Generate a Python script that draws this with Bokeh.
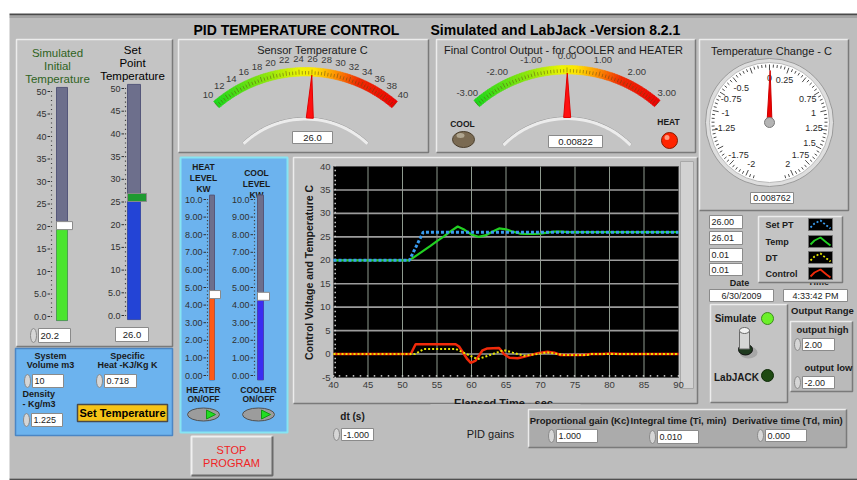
import numpy as np
from bokeh.plotting import figure
from bokeh.models import Range1d
from bokeh.core.properties import value
from bokeh.embed import file_html
from bokeh.resources import INLINE

# ---------------- data ----------------
# main chart
time_setpt = [40, 51.0, 53.0, 90]
set_pt = [20, 20, 26, 26]
time_temp = [40, 51, 52, 53, 54, 55, 56, 57, 58, 59, 60, 61, 62, 63, 64, 65, 66, 67,
             68, 69, 70, 71, 72, 73, 74, 75, 80, 85, 90]
temp = [20, 20, 21.0, 22.0, 23.0, 24.1, 25.1, 26.2, 27.2, 26.5, 25.5, 25.0, 25.3, 26.1,
        26.8, 26.6, 26.1, 25.7, 25.6, 25.6, 25.7, 25.9, 26.1, 26.1, 26.0, 26.0, 26.0, 26.0, 26.0]
time_dt = [40, 51.8, 53.1, 57.7, 59.0, 60.9, 62.5, 64.7, 66.0, 67.6, 69.5, 71.0, 73.4,
           76.8, 77.3, 90]
dt_vals = [0, 0, 1.1, 1.1, 0.2, -1.1, -0.3, 0.85, 0.3, -0.35, 0.0, 0.35, -0.2, -0.2, 0.0, 0.0]
time_ctrl = [40, 51.2, 51.9, 57.7, 58.2, 59.4, 59.9, 60.6, 61.6, 62.3, 64.0, 64.7, 65.5,
             66.7, 67.6, 69.6, 71.0, 72.0, 72.9, 76.3, 77.3, 79.0, 80.2, 81.5, 90]
control = [0, 0, 2.1, 2.1, 1.6, -1.1, -1.9, -1.4, 0.8, 1.2, 1.3, 0.0, -0.8, -0.9, -0.6,
           0.2, 0.5, 0.3, -0.2, -0.2, 0.0, 0.0, 0.1, 0.0, 0.0]
x_ticks = [40, 45, 50, 55, 60, 65, 70, 75, 80, 85, 90]
y_ticks = [-5, 0, 5, 10, 15, 20, 25, 30, 35, 40]

# gauges
sensor_temperature = 26.0
sensor_ticks = [10, 12, 14, 16, 18, 20, 22, 24, 26, 28, 30, 32, 34, 36, 38, 40]
control_output = 0.00822
control_ticks = [-3, -2, -1, 0, 1, 2, 3]
control_tick_labels = ["-3.00", "-2.00", "-1.00", "0.00", "1.00", "2.00", "3.00"]
temp_change = 0.008762
dial_ticks = [0, 0.25, 0.75, 1, 1.25, 1.5, 1.75, 2, -0.5, -0.75, -1, -1.25, -1.75, -2]
dial_labels = ["0", "0.25", "0.75", "1", "1.25", "1.5", "1.75", "2",
               "-0.5", "-0.75", "-1", "-1.25", "-1.75", "-2"]

# sliders
sim_initial_temp = 20.2
set_point_temp = 26.0
temp_slider_ticks = [0, 5, 10, 15, 20, 25, 30, 35, 40, 45, 50]
temp_slider_labels = ["0.0", "5.0", "10", "15", "20", "25", "30", "35", "40", "45", "50"]
heat_level = 4.6
cool_level = 4.5
level_ticks = [0, 1, 2, 3, 4, 5, 6, 7, 8, 9, 10]
level_labels = ["0.00", "1.00", "2.00", "3.00", "4.00", "5.00", "6.00", "7.00", "8.00", "9.00", "10.0"]

# controls / readouts
system_volume = "10"
specific_heat = "0.718"
density = "1.225"
readouts = ["26.00", "26.01", "0.01", "0.01"]
legend_names = ["Set PT", "Temp", "DT", "Control"]
date_text = "6/30/2009"
time_text = "4:33:42 PM"
output_high = "2.00"
output_low = "-2.00"
dt_s = "-1.000"
kc = "1.000"
ti = "0.010"
td = "0.000"

# ---------------- styles ----------------
FONT = "Liberation Sans"
BG = "#bdbdbd"
PANEL = "#c4c4c4"
BLUE_PANEL = "#6cb3ee"
TRACK = "#6d6f8c"
C_SET = "#3a9cf0"
C_TEMP = "#22d022"
C_DT = "#e6e600"
C_CTRL = "#f02a0a"

p = figure(width=857, height=480, x_range=Range1d(0, 857), y_range=Range1d(480, 0),
           output_backend="svg", toolbar_location=None, min_border=0,
           x_axis_location=None, y_axis_location=None)
p.grid.visible = False
p.outline_line_color = None
p.background_fill_color = "white"
p.border_fill_color = "white"


def txt(x, y, s, size=9, color="#1a1a1a", align="center", bold=False,
        baseline="middle", angle=0.0):
    p.text(x=[x], y=[y], text=[s], text_font=value(FONT), text_font_size=f"{size}px",
           text_color=color, text_align=align, text_baseline=baseline,
           text_font_style="bold" if bold else "normal", angle=angle)


def panel(l, t, r, b, fill=PANEL, light="#ececec", dark="#7a7a7a", lw=1.5):
    p.quad(left=[l], right=[r], top=[t], bottom=[b], fill_color=fill, line_color=None)
    p.multi_line(xs=[[l, l, r], [l, r, r]], ys=[[b, t, t], [b, b, t]],
                 line_color=[light, dark], line_width=lw)


def numbox(l, t, r, b, s, spinner=False, size=9, align="left"):
    p.quad(left=[l], right=[r], top=[t], bottom=[b], fill_color="white", line_color="#8a8a8a")
    if align == "left":
        txt(l + 2, (t + b) / 2, s, size=size, color="#222222", align="left")
    else:
        txt((l + r) / 2, (t + b) / 2, s, size=size, color="#222222")
    if spinner:
        p.ellipse(x=[l - 5], y=[(t + b) / 2], width=6, height=b - t, fill_color="#d6d6d6",
                  line_color="#8a8a8a")


def lerp_color(f, stops):
    for (f0, c0), (f1, c1) in zip(stops[:-1], stops[1:]):
        if f0 <= f <= f1:
            u = (f - f0) / (f1 - f0) if f1 > f0 else 0
            c = [int(round(a + (b - a) * u)) for a, b in zip(c0, c1)]
            return "#%02x%02x%02x" % tuple(c)
    return "#%02x%02x%02x" % stops[-1][1]


GAUGE_STOPS = [(0.0, (25, 215, 25)), (0.3, (140, 230, 10)), (0.47, (235, 245, 0)),
               (0.55, (255, 228, 0)), (0.65, (255, 150, 0)), (0.78, (238, 40, 0)),
               (1.0, (235, 0, 0))]


def arc_gauge(cx, cy, r_out, r_in, half, vmin, vmax, val, ticks, labels, r_lab,
              minor_step, hub_r, hub_half):
    def ang(v):
        return np.radians(90 + half - (v - vmin) / (vmax - vmin) * 2 * half)

    n = 80
    edges = np.linspace(vmin, vmax, n + 1)
    xs, ys, cols = [], [], []
    for i in range(n):
        a = np.linspace(ang(edges[i]), ang(edges[i + 1]), 4)
        px = list(cx + r_out * np.cos(a)) + list(cx + r_in * np.cos(a[::-1]))
        py = list(cy - r_out * np.sin(a)) + list(cy - r_in * np.sin(a[::-1]))
        xs.append(px)
        ys.append(py)
        cols.append(lerp_color((i + 0.5) / n, GAUGE_STOPS))
    p.patches(xs=xs, ys=ys, fill_color=cols, line_color=cols, line_width=0.6)
    # ticks inside the band
    mv = np.arange(vmin, vmax + minor_step / 2, minor_step)
    tx, ty = [], []
    for v in mv:
        a = ang(v)
        major = any(abs(v - t) < 1e-6 for t in ticks)
        r1 = r_out - 2 if major else r_in + 5
        tx.append([cx + (r_in + 1.5) * np.cos(a), cx + r1 * np.cos(a)])
        ty.append([cy - (r_in + 1.5) * np.sin(a), cy - r1 * np.sin(a)])
    p.multi_line(xs=tx, ys=ty, line_color="#5a4a10", line_alpha=0.55, line_width=0.9)
    # labels
    la = [ang(v) for v in ticks]
    p.text(x=[cx + r_lab * np.cos(a) for a in la], y=[cy - r_lab * np.sin(a) for a in la],
           text=labels, text_font=value(FONT), text_font_size="9.5px", text_color="#3a3a3a",
           text_align="center", text_baseline="middle")
    # hub arc
    ha = np.radians(np.linspace(90 + hub_half, 90 - hub_half, 40))
    p.line(x=cx + (hub_r + 1.5) * np.cos(ha), y=cy - (hub_r + 1.5) * np.sin(ha),
           line_color="#9a9a9a", line_width=1)
    p.line(x=cx + hub_r * np.cos(ha), y=cy - hub_r * np.sin(ha),
           line_color="#ececec", line_width=3)
    # needle
    a = ang(val)
    pa = a + np.pi / 2
    r0, r1 = hub_r + 1, r_in + 1
    nx = [cx + r1 * np.cos(a), cx + r0 * np.cos(a) + 3.5 * np.cos(pa), cx + r0 * np.cos(a) - 3.5 * np.cos(pa)]
    ny = [cy - r1 * np.sin(a), cy - r0 * np.sin(a) - 3.5 * np.sin(pa), cy - r0 * np.sin(a) + 3.5 * np.sin(pa)]
    p.patch(x=nx, y=ny, fill_color="#ff1010", line_color="#e00000", line_width=1)


def vslider(x0, x1, y_zero, y_max, vmax, val, fill, thumb_col, thumb_w, ticks, labels,
            label_right, ext, size=9):
    s = p.subplot(x_source=Range1d(0, 900), x_target=Range1d(0, 900),
                  y_source=Range1d(0, vmax), y_target=Range1d(y_zero, y_max))
    s.quad(left=[x0], right=[x1], bottom=[-ext], top=[vmax + ext], fill_color=TRACK,
           line_color="#55577a")
    s.quad(left=[x0], right=[x1], bottom=[-ext], top=[val], fill_color=fill, line_color=None)
    s.text(x=[label_right] * len(ticks), y=ticks, text=labels, text_font=value(FONT),
           text_font_size=f"{size}px", text_color="#303030", text_align="right",
           text_baseline="middle")
    s.segment(x0=[label_right + 1] * len(ticks), x1=[label_right + 3.5] * len(ticks),
              y0=ticks, y1=ticks, line_color="#303030", line_width=1)
    minor = np.linspace(0, vmax, 51)
    s.scatter(x=[label_right + 5] * len(minor), y=minor, marker="square", size=1.2,
              fill_color="#404040", line_color=None)
    s.rect(x=[x0 + thumb_w / 2], y=[val], width=thumb_w, height=8, height_units="screen",
           fill_color=thumb_col, line_color="#8a8a8a")


# ---------------- background ----------------
p.quad(left=[9], right=[857], top=[15], bottom=[478], fill_color=BG, line_color=None)
p.line(x=[9, 857], y=[14, 14], line_color="#4a4a4a", line_width=2)
p.line(x=[9, 857], y=[16.5, 16.5], line_color="#8a8a8a", line_width=1)
p.line(x=[9, 857], y=[479, 479], line_color="#505050", line_width=2)

txt(193, 29, "PID TEMPERATURE CONTROL", size=14, bold=True, color="black", align="left")
txt(430, 29, "Simulated and LabJack  -Version 8.2.1", size=14, bold=True, color="black", align="left")

# ---------------- left temperature sliders ----------------
panel(16, 39, 172, 346)
for i, w in enumerate(["Simulated", "Initial", "Temperature"]):
    txt(57, 52 + 13 * i, w, size=11.5, color="#2f6322")
for i, w in enumerate(["Set", "Point", "Temperature"]):
    txt(132, 49 + 13 * i, w, size=11.5, color="black")
vslider(56, 67, 316, 91, 50, sim_initial_temp, "#4ae52e", "#ffffff", 16,
        temp_slider_ticks, temp_slider_labels, 46, 0.9)
vslider(127, 140, 315, 88, 50, set_point_temp, "#2344d6", "#1e9a30", 19,
        temp_slider_ticks, temp_slider_labels, 120, 0.9)
numbox(38, 328, 70, 342, f"{sim_initial_temp:.1f}", spinner=True, size=9.5)
numbox(115, 327, 148, 341, f"{set_point_temp:.1f}", size=9.5, align="center")

# ---------------- settings (blue) ----------------
p.quad(left=[15], right=[172], top=[348], bottom=[435], fill_color=BLUE_PANEL,
       line_color="#4b86c4", line_width=1.5)
txt(50, 355, "System", bold=True)
txt(50, 364.5, "Volume m3", bold=True)
txt(127, 355, "Specific", bold=True)
txt(127, 364.5, "Heat -KJ/Kg K", bold=True)
txt(22, 393, "Density", bold=True, align="left")
txt(22, 403, "- Kg/m3", bold=True, align="left")
numbox(32, 374, 63, 387, system_volume, spinner=True)
numbox(104, 374, 136, 387, specific_heat, spinner=True)
numbox(31, 413, 62, 426, density, spinner=True)
p.quad(left=[77], right=[167], top=[404], bottom=[421], fill_color="#f6c417",
       line_color="#4a4a4a", line_width=1.5)
txt(122, 412.5, "Set Temperature", size=11, bold=True, color="black")

# ---------------- sensor temperature gauge ----------------
panel(178, 39, 428, 152)
txt(312, 49, "Sensor Temperature C", size=11, color="#1a1a1a")
arc_gauge(305, 208.5, 141.5, 133, 40.5, 10, 40, sensor_temperature, sensor_ticks,
          [str(t) for t in sensor_ticks], 150, 0.5, 90, 43.5)
numbox(292, 131, 332, 143, f"{sensor_temperature:.1f}", size=9.5, align="center")

# ---------------- final control output gauge ----------------
panel(436, 39, 695, 152)
txt(563, 49, "Final Control Output - for COOLER and HEATER", size=11, color="#1a1a1a")
arc_gauge(566.5, 207, 142, 133.5, 41, -3, 3, control_output, control_ticks,
          control_tick_labels, 152, 0.1, 89, 45.5)
numbox(548, 135, 602, 147, f"{control_output:.5f}", size=9.5, align="center")
txt(462, 123, "COOL", size=8.5, bold=True)
p.ellipse(x=[463], y=[139], width=22, height=16, fill_color="#7a6a52", line_color="#4a3e2c")
p.ellipse(x=[460], y=[135], width=8, height=5, fill_color="#b0a690", line_color=None)
txt(668, 121, "HEAT", size=8.5, bold=True)
p.circle(x=[669], y=[140], radius=8, fill_color="#ff2400", line_color="#8a1a00")
p.circle(x=[666.5], y=[137], radius=2.5, fill_color="#ff9a80", line_color=None)

# ---------------- temperature change dial ----------------
panel(699, 39, 848, 210)
txt(771, 50, "Temperature Change - C", size=11, color="#1a1a1a")
dcx, dcy = 769, 122


def dial_xy(v, r):
    th = np.radians(np.asarray(v, dtype=float) * 78.0)
    return dcx + r * np.sin(th), dcy - r * np.cos(th)


p.circle(x=[dcx], y=[dcy], radius=64, fill_color="#dedede", line_color="#9a9a9a", line_width=1)
p.circle(x=[dcx], y=[dcy], radius=60, fill_color="white", line_color="#b8b8b8", line_width=1)
mt = np.round(np.arange(-2.1, 2.1001, 0.05), 3)
txs, tys = [], []
for v in mt:
    major = abs(v * 4 - round(v * 4)) < 1e-6
    ax, ay = dial_xy(v, 58)
    bx, by = dial_xy(v, 52 if major else 55)
    txs.append([float(ax), float(bx)])
    tys.append([float(ay), float(by)])
p.multi_line(xs=txs, ys=tys, line_color="#3a3a3a", line_width=0.9)
lx, ly = dial_xy(dial_ticks, 45)
p.text(x=list(lx), y=list(ly), text=dial_labels, text_font=value(FONT), text_font_size="9px",
       text_color="#2a2a2a", text_align="center", text_baseline="middle")
th = np.radians(temp_change * 78.0)
nx = [dcx + 52 * np.sin(th), dcx + 2.5 * np.cos(th), dcx - 2.5 * np.cos(th)]
ny = [dcy - 52 * np.cos(th), dcy + 2.5 * np.sin(th), dcy - 2.5 * np.sin(th)]
p.patch(x=nx, y=ny, fill_color="#ee0000", line_color="#cc0000")
p.circle(x=[dcx], y=[dcy], radius=5, fill_color="#b4b4b4", line_color="#7a7a7a")
numbox(750, 192, 793, 203, f"{temp_change:.6f}", size=9, align="center")

# ---------------- heat / cool levels (blue) ----------------
p.quad(left=[180], right=[287], top=[157], bottom=[432], fill_color=BLUE_PANEL,
       line_color="#86e4f2", line_width=2)
for i, w in enumerate(["HEAT", "LEVEL", "KW"]):
    txt(203, 166 + 11 * i, w, size=8.5, bold=True)
for i, w in enumerate(["COOL", "LEVEL", "KW"]):
    txt(256, 172 + 11 * i, w, size=8.5, bold=True)
vslider(209, 214, 375, 199, 10, heat_level, "#ff5a16", "#ffffff", 11,
        level_ticks, level_labels, 202, 0.25, size=9)
vslider(257, 263, 375, 199, 10, cool_level, "#3b2cf2", "#ffffff", 12,
        level_ticks, level_labels, 249, 0.25, size=9)
txt(203, 389, "HEATER", size=8.5, bold=True)
txt(203, 398, "ON/OFF", size=8.5, bold=True)
txt(258, 389, "COOLER", size=8.5, bold=True)
txt(258, 398, "ON/OFF", size=8.5, bold=True)
for cx_ in (203, 258):
    p.ellipse(x=[cx_], y=[414], width=32, height=13, fill_color="#9c9c9c", line_color="#505050")
    p.patch(x=[cx_ + 3, cx_ + 12, cx_ + 3], y=[409.5, 414, 418.5], fill_color="#22dd22",
            line_color="#119911")

# STOP PROGRAM button
panel(191, 436, 272, 475, fill="#c8c8c8", light="#f0f0f0", dark="#6a6a6a", lw=2)
txt(231, 449, "STOP", size=11, color="#f02424")
txt(231, 462, "PROGRAM", size=11, color="#f02424")

# ---------------- main chart ----------------
panel(293, 157, 697, 403, fill="#c2c2c2")
p.quad(left=[680], right=[693], top=[161], bottom=[388], fill_color="#d2d2d2", line_color="#a8a8a8")
c = p.subplot(x_source=Range1d(40, 90), y_source=Range1d(-5, 40),
              x_target=Range1d(333, 678), y_target=Range1d(377, 166))
c.quad(left=[x_ticks[0]], right=[x_ticks[-1]], bottom=[y_ticks[0]], top=[y_ticks[-1]],
       fill_color="black", line_color="#505050")
inner_x = x_ticks[1:-1]
inner_y = y_ticks[1:-1]
c.segment(x0=inner_x, x1=inner_x, y0=[y_ticks[0]] * len(inner_x), y1=[y_ticks[-1]] * len(inner_x),
          line_color="#8e9a8e", line_width=1)
c.segment(x0=[x_ticks[0]] * len(inner_y), x1=[x_ticks[-1]] * len(inner_y), y0=inner_y, y1=inner_y,
          line_color="#9c9c9c", line_width=1.6)
mx = np.arange(x_ticks[0], x_ticks[-1] + 1, 1)
my = np.arange(y_ticks[0], y_ticks[-1] + 1, 1)
c.scatter(x=mx, y=[y_ticks[0] + 0.35] * len(mx), marker="square", size=1.5, fill_color="#d0d0d0",
          line_color=None)
c.scatter(x=[x_ticks[0] + 0.25] * len(my), y=my, marker="square", size=1.5, fill_color="#d0d0d0",
          line_color=None)
c.text(x=x_ticks, y=[y_ticks[0]] * len(x_ticks), text=[str(t) for t in x_ticks],
       text_font=value(FONT), text_font_size="9.5px", text_color="#3a3a3a",
       text_align="center", text_baseline="top", y_offset=4)
c.text(x=[x_ticks[0]] * len(y_ticks), y=y_ticks, text=[str(t) for t in y_ticks],
       text_font=value(FONT), text_font_size="9.5px", text_color="#3a3a3a",
       text_align="right", text_baseline="middle", x_offset=-3)

c.line(x=time_ctrl, y=control, line_color=C_CTRL, line_width=2.5)
c.line(x=time_temp, y=temp, line_color=C_TEMP, line_width=2.2)
c.line(x=time_dt, y=dt_vals, line_color=C_DT, line_width=2, line_dash="2 2")
c.line(x=time_setpt, y=set_pt, line_color=C_SET, line_width=3, line_dash="3 2")

txt(308, 272, "Control Voltage and Temperature C", size=10.5, bold=True, color="#1a1a1a",
    angle=np.pi / 2)
txt(503, 396, "Elapsed Time - sec", size=11, bold=True, color="#1a1a1a", baseline="top")
p.quad(left=[430], right=[580], top=[403.5], bottom=[410], fill_color=BG, line_color=None)

# ---------------- right side indicators ----------------
for i, (s, (t, b)) in enumerate(zip(readouts, [(215, 228), (231, 244), (248, 261), (263, 275)])):
    numbox(709, t, 742, b, s, size=9)

txt(818, 281, "Time", size=9, bold=True)
panel(758, 216, 842, 282)
leg_cols = [C_SET, C_TEMP, C_DT, C_CTRL]
leg_dash = ["2 2", "solid", "2 2", "solid"]
for name, cy_, col, dsh in zip(legend_names, [224, 241, 257, 273], leg_cols, leg_dash):
    txt(765, cy_, name, size=9, bold=True, align="left")
    p.quad(left=[808], right=[832], top=[cy_ - 6], bottom=[cy_ + 6], fill_color="black",
           line_color="#707070")
    p.line(x=[810, 814, 820, 826, 830], y=[cy_ + 3, cy_ - 1, cy_ - 4, cy_ + 1, cy_ + 4],
           line_color=col, line_width=1.8, line_dash=dsh)

txt(739, 282, "Date", size=9, bold=True)
numbox(709, 289, 773, 301, date_text, size=9, align="center")
numbox(783, 289, 847, 301, time_text, size=9, align="center")

panel(710, 304, 787, 402)
txt(735, 318, "Simulate", size=10, bold=True)
p.circle(x=[767], y=[318], radius=6, fill_color="#6cf02a", line_color="#3a8a1a")
p.ellipse(x=[748], y=[352], width=18, height=12, fill_color="#8a8a8a", line_color=None, fill_alpha=0.5)
p.ellipse(x=[745], y=[349], width=14, height=11, fill_color="#1f3a1f", line_color="#101010")
p.rect(x=[744], y=[339], width=10, height=19, fill_color="#d6d6d6", line_color="#6a6a6a")
p.ellipse(x=[744], y=[330], width=10, height=6, fill_color="#f2f2f2", line_color="#6a6a6a")
txt(736, 377, "LabJACK", size=10, bold=True)
p.circle(x=[767], y=[375], radius=6, fill_color="#1e4a12", line_color="#0e2a08")

txt(822, 310, "Output Range", size=9.5, bold=True)
panel(790, 321, 852, 391, fill="#bababa")
txt(822, 329, "output high", size=9.5, bold=True)
numbox(802, 338, 834, 350, output_high, spinner=True, size=9)
txt(828, 367, "output low", size=9.5, bold=True)
numbox(802, 376, 834, 388, output_low, spinner=True, size=9)

# ---------------- bottom controls ----------------
txt(352, 416, "dt (s)", size=10, bold=True)
numbox(341, 428, 373, 440, dt_s, spinner=True, size=9)
txt(490, 433, "PID gains", size=11, color="#1a1a1a")
panel(528, 409, 846, 447, fill="#ababab")
txt(579, 419.5, "Proportional gain (Kc)", size=9.5, bold=True)
txt(678, 420, "Integral time (Ti, min)", size=9.5, bold=True)
txt(787, 419.5, "Derivative time (Td, min)", size=9.5, bold=True)
numbox(556, 429, 597, 442, kc, spinner=True, size=9)
numbox(657, 430, 698, 443, ti, spinner=True, size=9)
numbox(765, 429, 806, 441, td, spinner=True, size=9)

open("out.html", "w").write(file_html(p, INLINE))
